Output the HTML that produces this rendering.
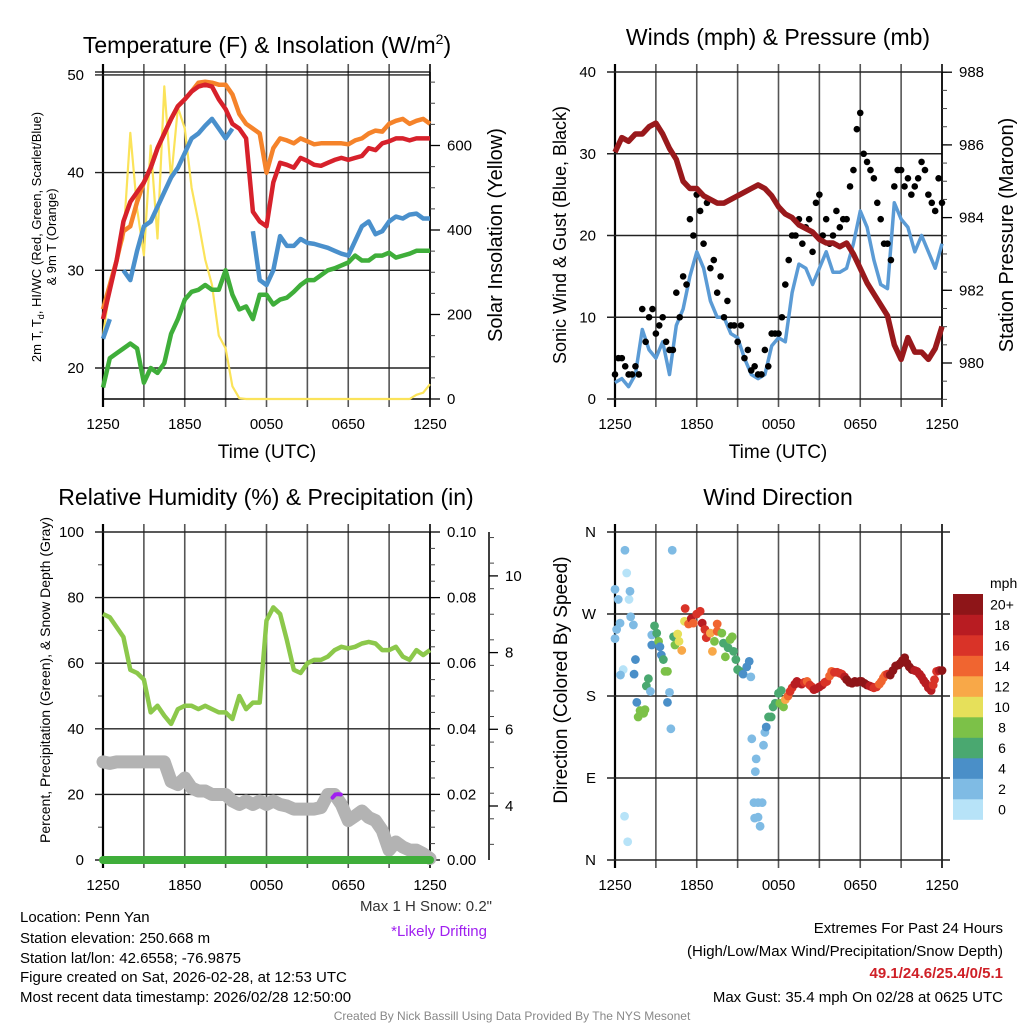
<!DOCTYPE html>
<html><head><meta charset="utf-8"><title>Mesonet Meteogram</title>
<style>
html,body{margin:0;padding:0;background:#fff;}
svg{display:block;font-family:"Liberation Sans",Arial,sans-serif;}
</style></head>
<body>
<svg id="chart" width="1024" height="1024" viewBox="0 0 1024 1024" xmlns="http://www.w3.org/2000/svg">
<rect width="1024" height="1024" fill="#fff"/>
<text x="267" y="53" font-size="23" text-anchor="middle">Temperature (F) &amp; Insolation (W/m<tspan dy="-9" font-size="14">2</tspan><tspan dy="9">)</tspan></text>
<text x="778" y="45" font-size="23" text-anchor="middle">Winds (mph) &amp; Pressure (mb)</text>
<text x="266" y="505" font-size="23" text-anchor="middle">Relative Humidity (%) &amp; Precipitation (in)</text>
<text x="778" y="505" font-size="23" text-anchor="middle">Wind Direction</text>
<text x="267" y="458" font-size="19" text-anchor="middle">Time (UTC)</text>
<text x="778" y="458" font-size="19" text-anchor="middle">Time (UTC)</text>
<text font-size="13" text-anchor="middle" transform="translate(41,237) rotate(-90)">2m T, T<tspan dy="3" font-size="9">d</tspan><tspan dy="-3">, HI/WC (Red, Green, Scarlet/Blue)</tspan></text>
<text font-size="13" text-anchor="middle" transform="translate(56,237) rotate(-90)">&amp; 9m T (Orange)</text>
<text font-size="20" text-anchor="middle" transform="translate(502,235) rotate(-90)">Solar Insolation (Yellow)</text>
<text font-size="18" text-anchor="middle" transform="translate(566,235) rotate(-90)">Sonic Wind &amp; Gust (Blue, Black)</text>
<text font-size="20" text-anchor="middle" transform="translate(1013,235) rotate(-90)">Station Pressure (Maroon)</text>
<text font-size="14" text-anchor="middle" transform="translate(50,680) rotate(-90)">Percent, Precipitation (Green), &amp; Snow Depth (Gray)</text>
<text font-size="19" text-anchor="middle" transform="translate(567,680) rotate(-90)">Direction (Colored By Speed)</text>
<g font-size="15">
<text x="20" y="922">Location: Penn Yan</text>
<text x="20" y="943">Station elevation: 250.668 m</text>
<text x="20" y="963">Station lat/lon: 42.6558; -76.9875</text>
<text x="20" y="982">Figure created on Sat, 2026-02-28, at 12:53 UTC</text>
<text x="20" y="1002">Most recent data timestamp: 2026/02/28 12:50:00</text>
</g>
<text x="492" y="911" font-size="15" fill="#333" text-anchor="end">Max 1 H Snow: 0.2"</text>
<text x="487" y="936" font-size="15" fill="#a020f0" text-anchor="end">*Likely Drifting</text>
<g font-size="15" text-anchor="end">
<text x="1003" y="933">Extremes For Past 24 Hours</text>
<text x="1003" y="956">(High/Low/Max Wind/Precipitation/Snow Depth)</text>
<text x="1003" y="978" fill="#cf2027" font-weight="bold">49.1/24.6/25.4/0/5.1</text>
<text x="1003" y="1002">Max Gust: 35.4 mph On 02/28 at 0625 UTC</text>
</g>
<text x="512" y="1020" font-size="12" fill="#888" text-anchor="middle">Created By Nick Bassill Using Data Provided By The NYS Mesonet</text>
</svg>
<script>
const hours = [0,0.5,1,1.5,2,2.5,3,3.5,4,4.5,5,5.5,6,6.5,7,7.5,8,8.5,9,9.5,10,10.5,11,11.5,12,12.5,13,13.5,14,14.5,15,15.5,16,16.5,17,17.5,18,18.5,19,19.5,20,20.5,21,21.5,22,22.5,23,23.5,24];
const xTickLabels = ["1250","1850","0050","0650","1250"];
const tempRed = [25,28,31,35,37,38,39,40.5,42.5,44,45.5,46.8,47.5,48.3,48.8,49,48.8,47.5,46.5,45,44.5,43.5,36,35,34.5,39,41,40.8,40.5,41.5,41.2,40.8,40.7,41,41.3,41.5,41.3,41.5,41.7,42.5,42.3,43,43.2,43.5,43.5,43.3,43.5,43.5,43.5];
const temp9m = [26,28.5,31,34,34.5,37,39,40.5,42.5,44,45.5,46.8,47.5,48.3,49.2,49.3,49.2,49,49,48,46,45,44.5,44,40,42.5,43.5,43.3,43,43.5,43.2,42.9,43,43,43,43,42.9,43.3,43.5,44,44.3,44.2,45,45.3,45.5,45,45.3,45.5,45];
const tempChill = [23,25,null,30,29,32,34.5,35,36.5,38,39.5,40.5,42,43.5,44,44.8,45.5,44.5,43.5,44.5,null,null,34,29,28.5,30,33.5,32.5,32.5,33.2,32.8,32.7,32.5,32.3,32,31.7,31.5,33,34.5,35,33.7,34,35,35.5,35.3,35.7,35.8,35.3,35.3];
const dewpoint = [18,21,21.5,22,22.5,22,18.5,20,19.5,20.5,23.5,25,27,27.8,28,28.5,28,28,30,27.5,26,26.3,25,27.5,27.5,26.5,27,27.2,27.8,28.5,29,29,29.5,30,30.2,30.5,30.8,31.5,31,31,31.5,31.5,31.8,31.3,31.5,31.7,32,32,32];
const insolation = [150,260,330,380,630,450,340,600,380,740,520,690,640,500,420,330,270,150,120,30,2,0,0,0,0,0,0,0,0,0,0,0,0,0,0,0,0,0,0,0,0,0,0,0,0,0,10,15,35];
const tempTicks = [20,30,40,50];
const solarTicks = [0,200,400,600];

const windSpeed = [2,2.5,1.5,3,8.5,6,5,7,3,9,11,15,18,16,12,10,10,8,7.5,5,3,2.5,3,6.5,7.5,7,13,16.5,16,14,16,18,15.5,15.5,16,19,23,21,17,14,13.5,24,22,21,18,20,18,16,19];
const gust = [3,5,3,4,11,10,8,10,6,13,15,22,25,19,16,13,10,9,7,5,3.5,3,6,8,8,14,20,22,21,18,25,22,20,21,22,28,35,29,27,22,19,26,28,27,26,29,25,23,24];
const gustQuarter = [5,4,3,3,7,11,9,7,6,10,14,20,23,24,17,15,12,9,9,6,4,3,4,8,10,17,20,19,22,24,20,19,23,22,26,33,30,28,24,19,17,28,26,25,27,28,24,27];
const pressure = [985.8,986.2,986.1,986.3,986.3,986.5,986.6,986.3,985.9,985.6,985.0,984.8,984.8,984.6,984.5,984.4,984.4,984.5,984.6,984.7,984.8,984.9,984.8,984.6,984.3,984.1,984.0,983.8,983.7,983.6,983.4,983.3,983.3,983.2,983.3,983.0,982.6,982.2,981.9,981.6,981.3,980.5,980.1,980.7,980.3,980.3,980.1,980.4,981.0];
const windTicks = [0,10,20,30,40];
const pressureTicks = [980,982,984,986,988];

const humidity = [75,74,71,68,58,57,55,45,47,44,41.5,46,47,47,46,47,46,45,45,43,50,46,48,48,73,77,75,67,58,57,60,61,61,62,64,65,64.5,65,66,66.5,66,64,64,65,62,61,64,62.5,64];
const snowDepth = [5.15,5.11,5.15,5.15,5.15,5.15,5.15,5.15,5.15,5.15,4.64,4.56,4.73,4.47,4.39,4.39,4.30,4.30,4.30,4.13,4.04,4.13,4.04,4.13,4.04,4.13,4.04,4.0,3.92,3.92,3.92,3.92,3.96,4.30,4.30,4.04,3.62,3.74,3.87,3.70,3.62,3.36,2.85,3.06,2.93,2.85,2.85,2.76,2.63];
const precip = [0,0,0,0,0,0,0,0,0,0,0,0,0,0,0,0,0,0,0,0,0,0,0,0,0,0,0,0,0,0,0,0,0,0,0,0,0,0,0,0,0,0,0,0,0,0,0,0,0];
const driftHours = [16.85,17.05,17.25,17.45];
const driftDepth = [4.22,4.30,4.31,4.30];
const rhTicks = [0,20,40,60,80,100];
const precipTicks = [0,0.02,0.04,0.06,0.08,0.10];
const snowTicks = [4,6,8,10];

const dirHours = [0.73,0.86,0,0.24,1.03,1.1,1.15,0.37,1.35,0.12,0,0.6,0.4,1.5,1.4,0.7,0.93,2.45,2.3,2.6,1.6,1.84,2.1,1.7,2.2,2.9,2.7,2.7,3.06,3.2,3.3,3.4,3.55,3.67,3.85,4.0,3.85,4.1,4.2,4.3,4.4,4.6,4.7,4.9,5.1,5.15,5.4,5.6,5.75,6.0,6.25,6.4,6.6,6.7,7.0,7.15,7.3,7.5,7.5,7.84,7.96,8.1,8.3,8.45,8.6,8.7,8.87,9.0,9.2,9.4,9.67,9.85,9.97,10.04,10.36,10.3,10.2,10.5,10.8,10.25,10.5,10.65,10.9,11.0,11.1,11.27,11.46,11.6,11.76,12.0,12.2,12.1,12.37,12.5,12.7,12.85,13.0,13.2,13.35,13.55,13.7,13.9,14.1,14.3,14.45,14.6,14.75,15.0,15.2,15.4,15.55,15.75,15.9,16.1,16.3,16.5,16.65,16.85,17.0,17.2,17.4,17.6,17.75,17.95,18.1,18.3,18.5,18.7,18.85,19.0,19.2,19.4,19.55,19.7,19.84,20.0,20.2,20.4,20.6,20.8,20.95,21.1,21.26,21.43,21.6,21.8,22.0,22.16,22.35,22.5,22.65,22.8,23.0,23.2,23.35,23.45,23.6,23.8,24];
const dirDeg = [340,315,297,286,286,295,267,260,258,253,243,209,203,220,204,48,20,199,191,185,173,164,161,157,165,257,247,236,249,240,234,225,220,207,207,184,173,144,340,245,236,248,240,230,262,276,259,265,260,270,273,260,253,244,249,229,240,251,259,249,238,223,233,242,245,229,220,209,207,204,212,218,201,133,111,97,63,63,63,46,47,37,126,140,146,157,157,168,172,183,186,172,168,176,180,185,189,193,196,194,193,195,196,192,190,187,188,190,192,195,196,202,207,206,206,205,204,201,198,195,194,196,195,196,196,194,192,191,190,189,190,193,196,200,203,204,203,208,213,214,216,219,222,216,212,209,208,207,204,201,197,194,189,186,192,198,207,208,208];
const dirSpeed = [3,1,3,3,1,3,3,3,3,3,3,1,3,5,5,1,1,7,7,3,5,9,9,9,9,7,3,5,7,9,5,5,7,9,9,3,5,3,3,7,9,11,11,13,11,17,15,19,15,17,17,19,17,17,13,13,9,15,15,9,7,9,7,9,9,7,7,7,7,5,5,5,3,3,3,3,3,3,3,3,3,3,3,3,5,7,7,7,7,7,7,9,9,13,15,17,17,19,19,19,19,17,15,17,17,19,19,19,19,17,17,15,15,17,17,17,17,19,21,21,21,21,21,21,21,21,21,19,19,17,17,15,15,15,15,17,21,21,21,21,21,21,21,21,21,21,19,19,19,19,19,19,19,19,17,17,17,19,21,21];
const dirTickLabels = ["N","E","S","W","N"];
const dirTicks = [0,90,180,270,360];
const speedBinLabels = ["0","2","4","6","8","10","12","14","16","18","20+"];
const speedBinColors = ["#b7e3f8","#7fbbe4","#4a8fc8","#4aa870","#7cc148","#e6e05a","#f8a848","#f06530","#d93328","#b81c22","#8e1518"];

const NS = "http://www.w3.org/2000/svg";
const svg = document.getElementById("chart");
function mk(tag, attrs, parent) {
  const e = document.createElementNS(NS, tag);
  for (const k in attrs) e.setAttribute(k, attrs[k]);
  (parent || svg).appendChild(e);
  return e;
}
function pathFrom(xs, ys, xf, yf) {
  let d = "", pen = false;
  for (let i = 0; i < xs.length; i++) {
    if (ys[i] === null || ys[i] === undefined) { pen = false; continue; }
    d += (pen ? "L" : "M") + xf(xs[i]).toFixed(1) + "," + yf(ys[i]).toFixed(1);
    pen = true;
  }
  return d;
}
const PL = 103, PR = 430, QL = 615, QR = 942;
const xA = h => PL + h * (PR - PL) / 24;
const xB = h => QL + h * (QR - QL) / 24;

function timeGrid(g, x0, x1, top, bot) {
  for (let h = 0; h <= 24; h += 3) {
    const x = x0 + h * (x1 - x0) / 24;
    const l = mk("line", {x1: x, x2: x, y1: top - 8, y2: bot + 8, stroke: (h === 0 || h === 24) ? "#000" : "#555", "stroke-width": (h === 0) ? 2.2 : 1.6}, g);
    
    
  }
  xTickLabels.forEach((lab, i) => {
    const t = mk("text", {x: x0 + i * (x1 - x0) / 4, y: bot + 30, "font-size": 15, "text-anchor": "middle"}, g);
    t.textContent = lab;
    
    
  });
}
function hGrid(g, x0, x1, ticks, yf, labels, extRight) {
  ticks.forEach((v, i) => {
    const y = yf(v);
    const l = mk("line", {x1: x0 - 8, x2: x1 + (extRight || 0), y1: y, y2: y, stroke: "#222", "stroke-width": 1.4}, g);
    
    
    const t = mk("text", {x: x0 - 19, y: y + 5, "font-size": 15, "text-anchor": "end"}, g);
    t.textContent = labels ? labels[i] : String(v);
    
    
  });
}
function rightAxis(g, x, ticks, yf, fmt, minorStep, lo, hi) {
  for (let v = lo; v <= hi + 1e-9; v += minorStep) {
    const y = yf(v);
    const l = mk("line", {x1: x, x2: x + 5, y1: y, y2: y, stroke: "#444", "stroke-width": 1}, g);
    
    
  }
  ticks.forEach(v => {
    const y = yf(v);
    const l = mk("line", {x1: x, x2: x + 10, y1: y, y2: y, stroke: "#000", "stroke-width": 1.3}, g);
    
    
    const t = mk("text", {x: x + 17, y: y + 5, "font-size": 15}, g);
    t.textContent = fmt(v);
    
    
  });
}

const g1 = mk("g", {});


const yT = v => 368 - (v - 20) * 9.77;
const yS = w => 399 - w * 0.4225;
timeGrid(g1, PL, PR, 72, 399);
hGrid(g1, PL, PR, tempTicks, yT);
const top1 = mk("line", {x1: PL - 8, x2: PR, y1: 72, y2: 72, stroke: "#000", "stroke-width": 1.3}, g1);


const bot1 = mk("line", {x1: PL, x2: PR, y1: 399, y2: 399, stroke: "#000", "stroke-width": 1.5}, g1);


const r1 = mk("line", {x1: PR, x2: PR, y1: 72, y2: 399, stroke: "#000", "stroke-width": 1.5}, g1);


rightAxis(g1, PR, solarTicks, yS, v => String(v), 50, 0, 750);
const s1 = mk("path", {d: pathFrom(hours, insolation, xA, yS), fill: "none", stroke: "#fbe35a", "stroke-width": 2.2, "stroke-linejoin": "round"}, g1);


const s2 = mk("path", {d: pathFrom(hours, dewpoint, xA, yT), fill: "none", stroke: "#3fae3a", "stroke-width": 4.5, "stroke-linejoin": "round"}, g1);


const s3 = mk("path", {d: pathFrom(hours, tempChill, xA, yT), fill: "none", stroke: "#4a90cc", "stroke-width": 4.5, "stroke-linejoin": "round"}, g1);


const s4 = mk("path", {d: pathFrom(hours, temp9m, xA, yT), fill: "none", stroke: "#f5832a", "stroke-width": 4.5, "stroke-linejoin": "round"}, g1);


const s5 = mk("path", {d: pathFrom(hours, tempRed, xA, yT), fill: "none", stroke: "#d7212b", "stroke-width": 4.5, "stroke-linejoin": "round"}, g1);



const g2 = mk("g", {});


const yW = v => 399 - v * 8.175;
const yP = p => 363 - (p - 980) * 36.35;
timeGrid(g2, QL, QR, 72, 399);
hGrid(g2, QL, QR, windTicks, yW);
const r2 = mk("line", {x1: QR, x2: QR, y1: 72, y2: 399, stroke: "#000", "stroke-width": 1.5}, g2);


rightAxis(g2, QR, pressureTicks, yP, v => String(v), 0.5, 979, 988);
const w1 = mk("path", {d: pathFrom(hours, windSpeed, xB, yW), fill: "none", stroke: "#5b9bd5", "stroke-width": 3.5, "stroke-linejoin": "round"}, g2);


gust.forEach((v, i) => {
  const c = mk("circle", {cx: xB(hours[i]), cy: yW(v), r: 3.3, fill: "#000"}, g2);
  
  
});
gustQuarter.forEach((v, i) => {
  const c = mk("circle", {cx: xB(hours[i] + 0.25), cy: yW(v), r: 3.3, fill: "#000"}, g2);
  
  
});
const w2 = mk("path", {d: pathFrom(hours, pressure, xB, yP), fill: "none", stroke: "#99191c", "stroke-width": 5.5, "stroke-linejoin": "round"}, g2);



const g3 = mk("g", {});


const yR = v => 860 - v * 3.28;
const ySn = v => 806 - (v - 4) * 38.35;
const yPr = v => 860 - v * 3280;
for (let v = 10; v < 100; v += 20) {
  const l = mk("line", {x1: PL - 5, x2: PL, y1: yR(v), y2: yR(v), stroke: "#444", "stroke-width": 1}, g3);
  
  
}
timeGrid(g3, PL, PR, 532, 860);
hGrid(g3, PL, PR, rhTicks, yR);
const r3 = mk("line", {x1: PR, x2: PR, y1: 532, y2: 860, stroke: "#000", "stroke-width": 1.5}, g3);


rightAxis(g3, PR, precipTicks, yPr, v => v.toFixed(2), 0.005, 0, 0.1);
const sx = 489;
const sl = mk("line", {x1: sx, x2: sx, y1: 532, y2: 860, stroke: "#000", "stroke-width": 1.5}, g3);


for (let v = 3; v <= 11.2; v += 2/3) {
  const y = ySn(v);
  if (y < 532 || y > 860) continue;
  const l = mk("line", {x1: sx, x2: sx + 5, y1: y, y2: y, stroke: "#444", "stroke-width": 1}, g3);
  
  
}
snowTicks.forEach(v => {
  const y = ySn(v);
  const l = mk("line", {x1: sx, x2: sx + 9, y1: y, y2: y, stroke: "#000", "stroke-width": 1.3}, g3);
  
  
  const t = mk("text", {x: sx + 16, y: y + 5, "font-size": 15}, g3);
  t.textContent = String(v);
  
  
});
const h1 = mk("path", {d: pathFrom(hours, snowDepth, xA, ySn), fill: "none", stroke: "#b3b3b3", "stroke-width": 13, "stroke-linejoin": "round", "stroke-linecap": "round"}, g3);


const h2 = mk("path", {d: pathFrom(driftHours, driftDepth, xA, ySn), fill: "none", stroke: "#a020f0", "stroke-width": 4, "stroke-linecap": "round"}, g3);


const h3 = mk("path", {d: pathFrom(hours, precip, xA, yPr), fill: "none", stroke: "#3fae3a", "stroke-width": 8, "stroke-linecap": "round"}, g3);


const h4 = mk("path", {d: pathFrom(hours, humidity, xA, yR), fill: "none", stroke: "#8cc84b", "stroke-width": 4.5, "stroke-linejoin": "round"}, g3);



const g4 = mk("g", {});


const yD = d => 860 - d * 0.9111;
timeGrid(g4, QL, QR, 532, 860);
hGrid(g4, QL, QR, dirTicks, yD, dirTickLabels, 8);
dirHours.forEach((h, i) => {
  const bin = Math.max(0, Math.min(10, Math.floor(dirSpeed[i] / 2)));
  const c = mk("circle", {cx: xB(h), cy: yD(dirDeg[i]), r: 4.4, fill: speedBinColors[bin]}, g4);
  
  
});
const cbTop = 594, cbH = 20.5;
const mph = mk("text", {x: 990, y: 588, "font-size": 14}, g4);
mph.textContent = "mph";


speedBinLabels.forEach((lab, i) => {
  const k = 10 - i;
  const r = mk("rect", {x: 953, y: cbTop + k * cbH, width: 30, height: cbH + 0.3, fill: speedBinColors[i]}, g4);
  
  
  const t = mk("text", {x: 1002, y: cbTop + k * cbH + cbH / 2 + 5, "font-size": 14, "text-anchor": "middle"}, g4);
  t.textContent = lab;
  
  
});
</script>
</body></html>
